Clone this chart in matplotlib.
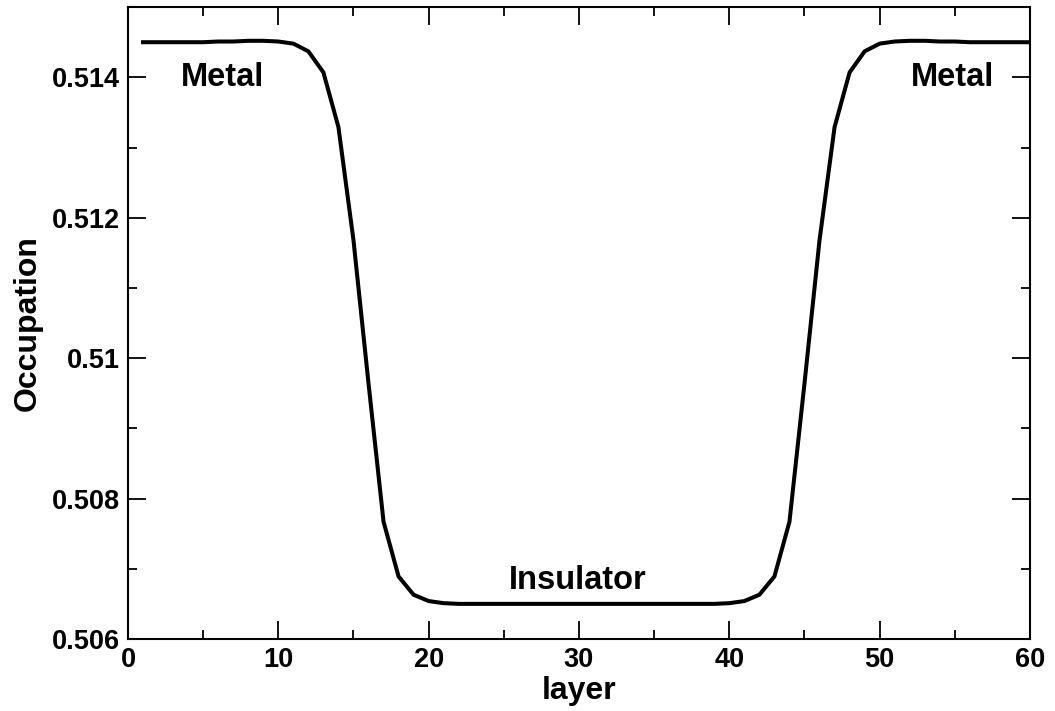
import numpy as np
import matplotlib
matplotlib.use("Agg")
import matplotlib.pyplot as plt
from matplotlib.ticker import MultipleLocator

plt.rcParams['font.family'] = ['Liberation Sans', 'DejaVu Sans']
plt.rcParams['font.weight'] = 'bold'

# occupation per layer
layer = np.arange(1, 61)
occupation = [
    0.51450, 0.51450, 0.51450, 0.51450, 0.51450, 0.51451, 0.51451, 0.51452, 0.51452, 0.51451,
    0.51448, 0.51437, 0.51407, 0.51329, 0.51168, 0.50964, 0.50767, 0.50689, 0.50663, 0.50654,
    0.50651, 0.50650, 0.50650, 0.50650, 0.50650, 0.50650, 0.50650, 0.50650, 0.50650, 0.50650,
    0.50650, 0.50650, 0.50650, 0.50650, 0.50650, 0.50650, 0.50650, 0.50650, 0.50650, 0.50651,
    0.50654, 0.50663, 0.50689, 0.50767, 0.50964, 0.51168, 0.51329, 0.51407, 0.51437, 0.51448,
    0.51451, 0.51452, 0.51452, 0.51451, 0.51451, 0.51450, 0.51450, 0.51450, 0.51450, 0.51450,
]
xticks = [0, 10, 20, 30, 40, 50, 60]
yticks = [0.506, 0.508, 0.510, 0.512, 0.514]
ytick_labels = ['0.506', '0.508', '0.51', '0.512', '0.514']

fig = plt.figure(figsize=(10.55, 7.11), dpi=100)
ax = fig.add_axes([0.1213, 0.1013, 0.8550, 0.8887])
ax.plot(layer, occupation, color='black', lw=2.9)

ax.set_xlim(0, 60)
ax.set_ylim(0.506, 0.515)
ax.set_xticks(xticks)
ax.set_yticks(yticks)
ax.set_yticklabels(ytick_labels)
ax.xaxis.set_minor_locator(MultipleLocator(5))
ax.yaxis.set_minor_locator(MultipleLocator(0.001))
ax.tick_params(which='both', direction='in', top=True, right=True, width=1.3,
               labelsize=19.5)
ax.tick_params(which='major', length=13, pad=6)
ax.tick_params(which='minor', length=6.5)
for s in ax.spines.values():
    s.set_linewidth(1.5)

ax.set_xlabel('layer', fontsize=23, fontweight='bold', labelpad=2)
ax.set_ylabel('Occupation', fontsize=23, fontweight='bold', labelpad=6)

ax.text(3.5, 0.514, 'Metal', fontsize=23.5, fontweight='bold', va='center', ha='left')
ax.text(57.6, 0.514, 'Metal', fontsize=23.5, fontweight='bold', va='center', ha='right')
ax.text(29.9, 0.50684, 'Insulator', fontsize=23.5, fontweight='bold', va='center', ha='center')

fig.savefig('out.png', dpi=100)
